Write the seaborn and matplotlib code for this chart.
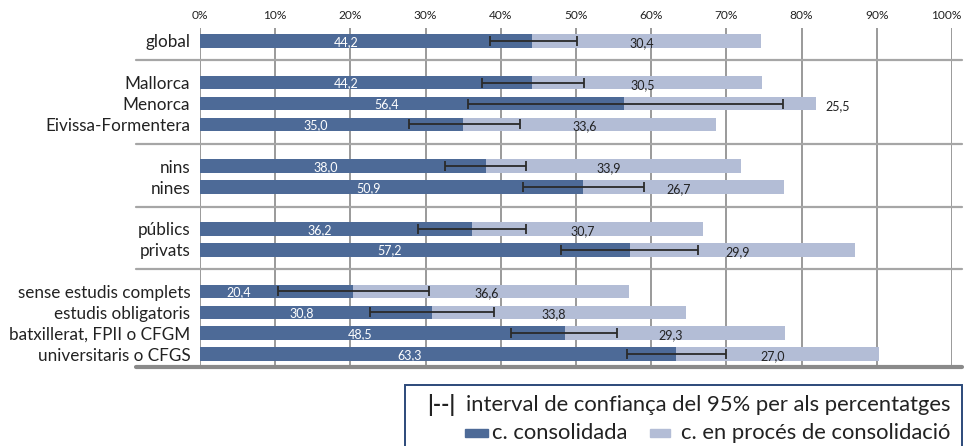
import matplotlib
matplotlib.use("Agg")
import matplotlib.pyplot as plt
import matplotlib.patches as mpatches
import matplotlib.transforms as mtransforms
import numpy as np
import pandas as pd
import seaborn as sns

# --- dades ---
groups = [
    ["global"],
    ["Mallorca", "Menorca", "Eivissa-Formentera"],
    ["nins", "nines"],
    ["públics", "privats"],
    ["sense estudis complets", "estudis obligatoris",
     "batxillerat, FPII o CFGM", "universitaris o CFGS"],
]
consolidada = [44.2, 44.2, 56.4, 35.0, 38.0, 50.9, 36.2, 57.2, 20.4, 30.8, 48.5, 63.3]
en_proces = [30.4, 30.5, 25.5, 33.6, 33.9, 26.7, 30.7, 29.9, 36.6, 33.8, 29.3, 27.0]
ci_low = [38.5, 37.5, 35.7, 27.8, 32.6, 42.9, 29.0, 48.0, 10.4, 22.6, 41.4, 56.8]
ci_high = [50.1, 51.1, 77.5, 42.5, 43.4, 59.0, 43.4, 66.2, 30.5, 39.1, 55.5, 69.9]
xticks = list(range(0, 101, 10))
xticklabels = [f"{t}%" for t in xticks]

DARK = "#4d6a97"
LIGHT = "#b3bdd6"
GRID = "#9a9a9a"
TXT = "#222222"
FONT = ["Lato", "DejaVu Sans"]

sns.set_theme(style="white")
plt.rcParams["font.family"] = FONT

# posicions: un buit entre grups
labels, ypos, seps = [], [], []
y = 0
for gi, g in enumerate(groups):
    if gi > 0:
        seps.append(y - 0.07)
        y += 1
    for name in g:
        labels.append(name)
        ypos.append(y)
        y += 1

df = pd.DataFrame({
    "cat": labels,
    "pos": ypos,
    "cons": consolidada,
    "proc": en_proces,
})
df["total"] = df["cons"] + df["proc"]

fig = plt.figure(figsize=(9.65, 4.46), dpi=100)
ax = fig.add_axes([200 / 965, 1 - 367.7 / 446, 752 / 965, (367.7 - 28) / 446])

for t in xticks:
    ax.axvline(t, color=GRID, lw=1.4, zorder=0)

sns.barplot(data=df, x="total", y="pos", orient="h", native_scale=True,
            color=LIGHT, width=0.65, ax=ax, saturation=1, linewidth=0, zorder=2)
sns.barplot(data=df, x="cons", y="pos", orient="h", native_scale=True,
            color=DARK, width=0.65, ax=ax, saturation=1, linewidth=0, zorder=3)

lo = np.array(ci_low)
hi = np.array(ci_high)
c = df["cons"].to_numpy()
ax.errorbar(c, df["pos"], xerr=[c - lo, hi - c], fmt="none", ecolor="#2a2a2a",
            elinewidth=1.3, capsize=3.5, capthick=1.3, zorder=4)

fmt = lambda v: f"{v:.1f}".replace(".", ",")
for i, r in df.iterrows():
    # etiqueta de la part consolidada (blanca)
    xl = 0.44 * r["cons"]
    if xl + 2.8 > ci_low[i]:
        xl = ci_low[i] / 2
    ax.text(xl, r["pos"] + 0.04, fmt(r["cons"]), color="white", fontsize=9,
            ha="center", va="center", zorder=5)
    # etiqueta de la part en procés
    xm = r["cons"] + r["proc"] / 2 - 0.6
    if ci_high[i] > xm - 2.5:
        ax.text(r["total"] + 1.2, r["pos"] + 0.1, fmt(r["proc"]), color=TXT,
                fontsize=9, ha="left", va="center", zorder=5)
    else:
        ax.text(xm, r["pos"] + 0.1, fmt(r["proc"]), color=TXT, fontsize=9,
                ha="center", va="center", zorder=5)

ax.set_xlim(0, 100)
ax.set_ylim(15.65, -0.62)
ax.xaxis.tick_top()
ax.set_xticks(xticks, xticklabels)
ax.set_yticks(ypos, labels)
ax.tick_params(axis="x", length=0, pad=5, labelsize=8.6, colors=TXT)
ax.tick_params(axis="y", length=0, pad=7, labelsize=12.3, colors=TXT)
ax.set_xlabel("")
ax.set_ylabel("")
for s in ax.spines.values():
    s.set_visible(False)
# l'etiqueta del 100% una mica a l'esquerra perquè no es talli
last = ax.get_xticklabels()[-1]
last.set_transform(last.get_transform() + mtransforms.ScaledTranslation(-6 / 100, 0, fig.dpi_scale_trans))

# línies separadores
trans = mtransforms.blended_transform_factory(ax.transAxes, ax.transData)
x0, x1 = (136 - 200) / 752, (962 - 200) / 752
for s in seps:
    ax.plot([x0, x1], [s, s], color="#a6a6a6", lw=1.6, transform=trans,
            clip_on=False, zorder=1)
ax.plot([x0, x1], [15.62, 15.62], color="#8a8a8a", lw=3, transform=trans,
        clip_on=False, zorder=1)

# llegenda
def fx(px):
    return px / 965


def fy(py):
    return 1 - py / 446


fig.patches.append(mpatches.Rectangle((fx(405), fy(460)), fx(962 - 405), (460 - 385) / 446,
                                      transform=fig.transFigure, fill=False,
                                      edgecolor="#2c4a7a", lw=1.4))
fig.text(fx(427), fy(405), "|--|", fontsize=15.8, fontweight="bold", ha="left",
         va="center", color=TXT)
fig.text(fx(950), fy(405), "interval de confiança del 95% per als percentatges",
         fontsize=15.8, ha="right", va="center", color=TXT)
fig.patches.append(mpatches.Rectangle((fx(465), fy(437)), fx(23), 8 / 446,
                                      transform=fig.transFigure, color=DARK))
fig.text(fx(492), fy(433), "c. consolidada", fontsize=15.8, ha="left",
         va="center", color=TXT)
fig.patches.append(mpatches.Rectangle((fx(650), fy(437)), fx(20), 8 / 446,
                                      transform=fig.transFigure, color=LIGHT))
fig.text(fx(950), fy(433), "c. en procés de consolidació", fontsize=15.8,
         ha="right", va="center", color=TXT)

fig.savefig("out.png", dpi=100)
